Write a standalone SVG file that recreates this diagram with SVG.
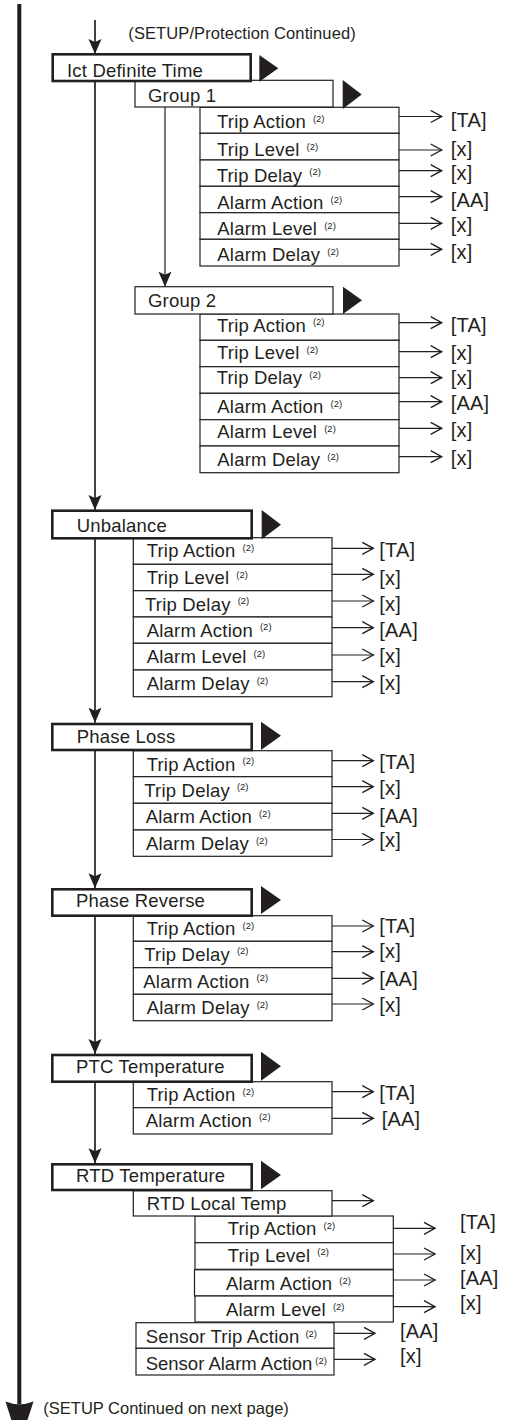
<svg xmlns="http://www.w3.org/2000/svg" width="507" height="1420" viewBox="0 0 507 1420">
<style>
.bg{fill:#fff}
.tb{fill:#fff;stroke:#231f20;stroke-width:2.6}
.nb{fill:#fff;stroke:#231f20;stroke-width:1.2}
.t{font-family:"Liberation Sans",Arial,sans-serif;font-size:18.5px;letter-spacing:0.2px;fill:#231f20}
.s{font-size:9.5px;letter-spacing:0}
.l{font-family:"Liberation Sans",Arial,sans-serif;font-size:20px;letter-spacing:0.2px;fill:#231f20}
.n{font-family:"Liberation Sans",Arial,sans-serif;font-size:16.5px;fill:#231f20}
.h{stroke:#231f20;stroke-width:1.2;fill:none}
.v{stroke:#231f20;stroke-width:1.7;fill:none}
.vt{stroke:#231f20;stroke-width:1.2;fill:none}
.tri{fill:#231f20}
</style>
<defs>
<marker id="chev" markerWidth="14" markerHeight="14" refX="12" refY="7" orient="auto" markerUnits="userSpaceOnUse">
<path d="M1,1 L12,7 L1,13" fill="none" stroke="#231f20" stroke-width="1.4"/>
</marker>
<marker id="dn" markerWidth="16" markerHeight="14" refX="15" refY="6.5" orient="auto" markerUnits="userSpaceOnUse">
<path d="M0,0 L15,6.5 L0,13 L3,6.5 Z" fill="#231f20"/>
</marker>
</defs>
<rect class="bg" x="0" y="0" width="507" height="1420"/>

<g id="connectors">
<line x1="19.3" y1="4" x2="19.3" y2="1404" stroke="#231f20" stroke-width="4"/>
<path class="tri" d="M5.5,1401.5 Q19.3,1407 33.5,1401.5 L19.3,1445 Z"/>
<line class="v" x1="95" y1="20" x2="95" y2="54" marker-end="url(#dn)"/>
<line class="v" x1="95" y1="81" x2="95" y2="510" marker-end="url(#dn)"/>
<line class="vt" x1="165" y1="107" x2="165" y2="286.7" marker-end="url(#dn)"/>
<line class="v" x1="95" y1="538.3" x2="95" y2="722.7" marker-end="url(#dn)"/>
<line class="v" x1="95" y1="750" x2="95" y2="888.3" marker-end="url(#dn)"/>
<line class="v" x1="95" y1="915.7" x2="95" y2="1054" marker-end="url(#dn)"/>
<line class="v" x1="95" y1="1081.7" x2="95" y2="1163.3" marker-end="url(#dn)"/>
<!-- group 1 -->
<path class="h" d="M399,116.5 H441.7" marker-end="url(#chev)"/>
<path class="h" d="M399,150 H441.7" marker-end="url(#chev)"/>
<path class="h" d="M399,170.7 H441.7" marker-end="url(#chev)"/>
<path class="h" d="M399,196.7 H441.7" marker-end="url(#chev)"/>
<path class="h" d="M399,223.3 H441.7" marker-end="url(#chev)"/>
<path class="h" d="M399,249.3 H441.7" marker-end="url(#chev)"/>
<!-- group 2 -->
<path class="h" d="M399,322.7 H441.7" marker-end="url(#chev)"/>
<path class="h" d="M399,351.7 H441.7" marker-end="url(#chev)"/>
<path class="h" d="M399,377.7 H441.7" marker-end="url(#chev)"/>
<path class="h" d="M399,401.7 H441.7" marker-end="url(#chev)"/>
<path class="h" d="M399,428.3 H441.7" marker-end="url(#chev)"/>
<path class="h" d="M399,456.7 H441.7" marker-end="url(#chev)"/>
<!-- unbalance -->
<path class="h" d="M332,548.3 H373.3" marker-end="url(#chev)"/>
<path class="h" d="M332,574.3 H373.3" marker-end="url(#chev)"/>
<path class="h" d="M332,601 H373.3" marker-end="url(#chev)"/>
<path class="h" d="M332,627.7 H373.3" marker-end="url(#chev)"/>
<path class="h" d="M332,655 H373.3" marker-end="url(#chev)"/>
<path class="h" d="M332,681.7 H373.3" marker-end="url(#chev)"/>
<!-- phase loss -->
<path class="h" d="M332,760.7 H373.3" marker-end="url(#chev)"/>
<path class="h" d="M332,786.7 H373.3" marker-end="url(#chev)"/>
<path class="h" d="M332,813.3 H373.3" marker-end="url(#chev)"/>
<path class="h" d="M332,839.5 H373.3" marker-end="url(#chev)"/>
<!-- phase reverse -->
<path class="h" d="M332,926 H373.3" marker-end="url(#chev)"/>
<path class="h" d="M332,951.7 H373.3" marker-end="url(#chev)"/>
<path class="h" d="M332,978.3 H373.3" marker-end="url(#chev)"/>
<path class="h" d="M332,1004 H373.3" marker-end="url(#chev)"/>
<!-- PTC -->
<path class="h" d="M332,1091.7 H373.3" marker-end="url(#chev)"/>
<path class="h" d="M332,1118.3 H373.3" marker-end="url(#chev)"/>
<!-- RTD -->
<path class="h" d="M332,1200.7 H373.3" marker-end="url(#chev)"/>
<path class="h" d="M393.3,1228.3 H435" marker-end="url(#chev)"/>
<path class="h" d="M393.3,1254 H435" marker-end="url(#chev)"/>
<path class="h" d="M393.3,1280 H435" marker-end="url(#chev)"/>
<path class="h" d="M393.3,1306.7 H435" marker-end="url(#chev)"/>
<path class="h" d="M334,1333.3 H375" marker-end="url(#chev)"/>
<path class="h" d="M334,1359.3 H375" marker-end="url(#chev)"/>
</g>

<g id="labels">
<text class="n" x="128.3" y="38.5" style="letter-spacing:0.1px">(SETUP/Protection Continued)</text>
<text class="n" x="43.3" y="1414">(SETUP Continued on next page)</text>
<text class="l" x="450.7" y="126.7">[TA]</text>
<text class="l" x="450.7" y="156">[x]</text>
<text class="l" x="450.7" y="180">[x]</text>
<text class="l" x="450.7" y="206.7">[AA]</text>
<text class="l" x="450.7" y="231.7">[x]</text>
<text class="l" x="450.7" y="259.3">[x]</text>
<text class="l" x="450.7" y="332.3">[TA]</text>
<text class="l" x="450.7" y="360">[x]</text>
<text class="l" x="450.7" y="385">[x]</text>
<text class="l" x="450.7" y="410">[AA]</text>
<text class="l" x="450.7" y="436.7">[x]</text>
<text class="l" x="450.7" y="465">[x]</text>
<text class="l" x="379.3" y="557.3">[TA]</text>
<text class="l" x="379.3" y="585">[x]</text>
<text class="l" x="379.3" y="610.7">[x]</text>
<text class="l" x="379.3" y="636.7">[AA]</text>
<text class="l" x="379.3" y="662.7">[x]</text>
<text class="l" x="379.3" y="690">[x]</text>
<text class="l" x="379.3" y="769.3">[TA]</text>
<text class="l" x="379.3" y="795">[x]</text>
<text class="l" x="379.3" y="822.7">[AA]</text>
<text class="l" x="379.3" y="847">[x]</text>
<text class="l" x="379.3" y="933.3">[TA]</text>
<text class="l" x="379.3" y="958.3">[x]</text>
<text class="l" x="379.3" y="986">[AA]</text>
<text class="l" x="379.3" y="1011.7">[x]</text>
<text class="l" x="379.3" y="1100">[TA]</text>
<text class="l" x="381.7" y="1126">[AA]</text>
<text class="l" x="460" y="1229">[TA]</text>
<text class="l" x="460" y="1260">[x]</text>
<text class="l" x="460" y="1285">[AA]</text>
<text class="l" x="460" y="1310">[x]</text>
<text class="l" x="400" y="1338.3">[AA]</text>
<text class="l" x="400" y="1363.3">[x]</text>
</g>

<!-- Group 1 children -->
<g id="g1-trip-action"><rect class="nb" x="200" y="107.3" width="199" height="26"/><text class="t" x="217" y="128.3">Trip Action<tspan class="s" dx="7" dy="-6.5">(2)</tspan></text></g>
<g id="g1-trip-level"><rect class="nb" x="200" y="133.3" width="199" height="26.7"/><text class="t" x="217" y="156">Trip Level<tspan class="s" dx="7" dy="-6.5">(2)</tspan></text></g>
<g id="g1-trip-delay"><rect class="nb" x="200" y="160" width="199" height="26.3"/><text class="t" x="216.7" y="181.7">Trip Delay<tspan class="s" dx="7" dy="-6.5">(2)</tspan></text></g>
<g id="g1-alarm-action"><rect class="nb" x="200" y="186.3" width="199" height="26.4"/><text class="t" x="217.3" y="209">Alarm Action<tspan class="s" dx="7" dy="-6.5">(2)</tspan></text></g>
<g id="g1-alarm-level"><rect class="nb" x="200" y="212.7" width="199" height="26.6"/><text class="t" x="217.3" y="235">Alarm Level<tspan class="s" dx="7" dy="-6.5">(2)</tspan></text></g>
<g id="g1-alarm-delay"><rect class="nb" x="200" y="239.3" width="199" height="26.7"/><text class="t" x="217.3" y="261">Alarm Delay<tspan class="s" dx="7" dy="-6.5">(2)</tspan></text></g>

<g id="group1"><rect class="nb" x="135" y="80.3" width="198" height="26.7"/><text class="t" x="148" y="102">Group 1</text><polygon class="tri" points="342.7,80 361.7,94.5 342.7,109"/></g>
<g id="ict-definite-time"><rect class="tb" x="52.7" y="54.3" width="198" height="26.7"/><text class="t" x="67" y="76.7">Ict Definite Time</text><polygon class="tri" points="259.3,55 278.3,68.3 259.3,81.7"/></g>

<!-- Group 2 children -->
<g id="g2-trip-action"><rect class="nb" x="200" y="314" width="199" height="26.3"/><text class="t" x="217" y="331.7">Trip Action<tspan class="s" dx="7" dy="-6.5">(2)</tspan></text></g>
<g id="g2-trip-level"><rect class="nb" x="200" y="340.3" width="199" height="26.4"/><text class="t" x="217" y="359.3">Trip Level<tspan class="s" dx="7" dy="-6.5">(2)</tspan></text></g>
<g id="g2-trip-delay"><rect class="nb" x="200" y="366.7" width="199" height="26.6"/><text class="t" x="216.7" y="384">Trip Delay<tspan class="s" dx="7" dy="-6.5">(2)</tspan></text></g>
<g id="g2-alarm-action"><rect class="nb" x="200" y="393.3" width="199" height="26.4"/><text class="t" x="217.3" y="413.3">Alarm Action<tspan class="s" dx="7" dy="-6.5">(2)</tspan></text></g>
<g id="g2-alarm-level"><rect class="nb" x="200" y="419.7" width="199" height="26.3"/><text class="t" x="217.3" y="438.3">Alarm Level<tspan class="s" dx="7" dy="-6.5">(2)</tspan></text></g>
<g id="g2-alarm-delay"><rect class="nb" x="200" y="446" width="199" height="26.7"/><text class="t" x="217.3" y="466">Alarm Delay<tspan class="s" dx="7" dy="-6.5">(2)</tspan></text></g>
<g id="group2"><rect class="nb" x="135" y="286.7" width="198" height="27.3"/><text class="t" x="148" y="306.7">Group 2</text><polygon class="tri" points="343,286.7 362,300.3 343,314"/></g>

<!-- Unbalance -->
<g id="ub-trip-action"><rect class="nb" x="133.3" y="537.7" width="198.7" height="26.6"/><text class="t" x="146.7" y="557.3">Trip Action<tspan class="s" dx="7" dy="-6.5">(2)</tspan></text></g>
<g id="ub-trip-level"><rect class="nb" x="133.3" y="564.3" width="198.7" height="26.4"/><text class="t" x="146.7" y="584">Trip Level<tspan class="s" dx="7" dy="-6.5">(2)</tspan></text></g>
<g id="ub-trip-delay"><rect class="nb" x="133.3" y="590.7" width="198.7" height="26.3"/><text class="t" x="145" y="610.7">Trip Delay<tspan class="s" dx="7" dy="-6.5">(2)</tspan></text></g>
<g id="ub-alarm-action"><rect class="nb" x="133.3" y="617" width="198.7" height="26.3"/><text class="t" x="146.7" y="636.7">Alarm Action<tspan class="s" dx="7" dy="-6.5">(2)</tspan></text></g>
<g id="ub-alarm-level"><rect class="nb" x="133.3" y="643.3" width="198.7" height="26.7"/><text class="t" x="146.7" y="663.3">Alarm Level<tspan class="s" dx="7" dy="-6.5">(2)</tspan></text></g>
<g id="ub-alarm-delay"><rect class="nb" x="133.3" y="670" width="198.7" height="26.7"/><text class="t" x="146.7" y="690">Alarm Delay<tspan class="s" dx="7" dy="-6.5">(2)</tspan></text></g>
<g id="unbalance"><rect class="tb" x="52.3" y="510.7" width="199.4" height="27.6"/><text class="t" x="76.7" y="531.7">Unbalance</text><polygon class="tri" points="261.7,510 281,524.7 261.7,539.3"/></g>

<!-- Phase Loss -->
<g id="pl-trip-action"><rect class="nb" x="133.3" y="750.7" width="198.7" height="26"/><text class="t" x="146.7" y="770.7">Trip Action<tspan class="s" dx="7" dy="-6.5">(2)</tspan></text></g>
<g id="pl-trip-delay"><rect class="nb" x="133.3" y="776.7" width="198.7" height="26.6"/><text class="t" x="144.3" y="796.7">Trip Delay<tspan class="s" dx="7" dy="-6.5">(2)</tspan></text></g>
<g id="pl-alarm-action"><rect class="nb" x="133.3" y="803.3" width="198.7" height="26.7"/><text class="t" x="145.7" y="823.3">Alarm Action<tspan class="s" dx="7" dy="-6.5">(2)</tspan></text></g>
<g id="pl-alarm-delay"><rect class="nb" x="133.3" y="830" width="198.7" height="26.3"/><text class="t" x="146" y="850">Alarm Delay<tspan class="s" dx="7" dy="-6.5">(2)</tspan></text></g>
<g id="phase-loss"><rect class="tb" x="52.3" y="724" width="199.4" height="26"/><text class="t" x="76.7" y="743.3">Phase Loss</text><polygon class="tri" points="261,721.7 281,735.8 261,750"/></g>

<!-- Phase Reverse -->
<g id="pr-trip-action"><rect class="nb" x="133.3" y="915.7" width="198.7" height="25.6"/><text class="t" x="146.7" y="935">Trip Action<tspan class="s" dx="7" dy="-6.5">(2)</tspan></text></g>
<g id="pr-trip-delay"><rect class="nb" x="133.3" y="941.3" width="198.7" height="26.4"/><text class="t" x="144.3" y="960.7">Trip Delay<tspan class="s" dx="7" dy="-6.5">(2)</tspan></text></g>
<g id="pr-alarm-action"><rect class="nb" x="133.3" y="967.7" width="198.7" height="26.6"/><text class="t" x="143.3" y="987.7">Alarm Action<tspan class="s" dx="7" dy="-6.5">(2)</tspan></text></g>
<g id="pr-alarm-delay"><rect class="nb" x="133.3" y="994.3" width="198.7" height="26.4"/><text class="t" x="146.7" y="1014">Alarm Delay<tspan class="s" dx="7" dy="-6.5">(2)</tspan></text></g>
<g id="phase-reverse"><rect class="tb" x="52.3" y="889.3" width="199.4" height="26.4"/><text class="t" x="76" y="906.7">Phase Reverse</text><polygon class="tri" points="261,886 281,900 261,914"/></g>

<!-- PTC -->
<g id="ptc-trip-action"><rect class="nb" x="133.3" y="1081.7" width="198.7" height="26"/><text class="t" x="146.7" y="1101">Trip Action<tspan class="s" dx="7" dy="-6.5">(2)</tspan></text></g>
<g id="ptc-alarm-action"><rect class="nb" x="133.3" y="1107.7" width="198.7" height="26.3"/><text class="t" x="145.7" y="1126.7">Alarm Action<tspan class="s" dx="7" dy="-6.5">(2)</tspan></text></g>
<g id="ptc-temperature"><rect class="tb" x="52.3" y="1055" width="199.4" height="26.7"/><text class="t" x="76" y="1072.7">PTC Temperature</text><polygon class="tri" points="261,1051.7 281,1066.2 261,1080.7"/></g>

<!-- RTD -->
<g id="rtd-trip-action"><rect class="nb" x="195" y="1216" width="198.3" height="26.7"/><text class="t" x="227.7" y="1235">Trip Action<tspan class="s" dx="7" dy="-6.5">(2)</tspan></text></g>
<g id="rtd-trip-level"><rect class="nb" x="195" y="1242.7" width="198.3" height="26.6"/><text class="t" x="227.7" y="1261.7">Trip Level<tspan class="s" dx="7" dy="-6.5">(2)</tspan></text></g>
<g id="rtd-alarm-action"><rect class="nb" x="194.5" y="1269.8" width="198.8" height="26.2"/><text class="t" x="226" y="1290">Alarm Action<tspan class="s" dx="7" dy="-6.5">(2)</tspan></text></g>
<g id="rtd-alarm-level"><rect class="nb" x="195" y="1296" width="198.3" height="26"/><text class="t" x="226" y="1316">Alarm Level<tspan class="s" dx="7" dy="-6.5">(2)</tspan></text></g>
<g id="sensor-trip-action"><rect class="nb" x="136" y="1322.7" width="198" height="25.6"/><text class="t" x="145.7" y="1343.3">Sensor Trip Action<tspan class="s" dx="6" dy="-6.5">(2)</tspan></text></g>
<g id="sensor-alarm-action"><rect class="nb" x="136" y="1348.3" width="198" height="26.7"/><text class="t" x="145.7" y="1370" style="letter-spacing:0">Sensor Alarm Action<tspan class="s" dx="3" dy="-6.5">(2)</tspan></text></g>
<g id="rtd-local-temp"><rect class="nb" x="133.3" y="1190.7" width="198.7" height="25.3"/><text class="t" x="146.7" y="1210">RTD Local Temp</text></g>
<g id="rtd-temperature"><rect class="tb" x="52.3" y="1164.3" width="199.4" height="25.7"/><text class="t" x="76" y="1181.7">RTD Temperature</text><polygon class="tri" points="261,1160.7 281,1175 261,1189.3"/></g>
</svg>
